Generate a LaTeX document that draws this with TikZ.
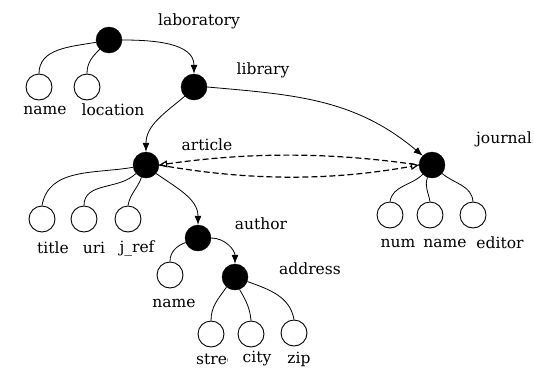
\documentclass[tikz,border=0pt]{standalone}
\usepackage{fontspec}
\setmainfont{DejaVu Serif}
\usetikzlibrary{arrows.meta}
\begin{document}
\begin{tikzpicture}[x=1pt,y=-1pt,
  bn/.style={circle,fill=black,draw=black,minimum size=26pt,inner sep=0pt},
  wn/.style={circle,draw=black,fill=white,minimum size=26pt,inner sep=0pt,line width=0.9pt},
  lbl/.style={font=\fontsize{15.5}{18}\selectfont,inner sep=0pt},
  edge/.style={line width=0.8pt},
  arr/.style={line width=0.8pt,-{Latex[length=9pt,width=7pt]}},
  dsh/.style={line width=1.2pt,dash pattern=on 6pt off 3pt}]
\useasboundingbox (0,0) rectangle (534,367);
% black nodes
\node[bn] (lab) at (109,40) {};
\node[bn] (lib) at (194,87) {};
\node[bn] (art) at (146,165) {};
\node[bn] (jou) at (432,165) {};
\node[bn] (aut) at (198,238) {};
\node[bn] (adr) at (235,277) {};
% white nodes
\node[wn] (lname) at (39,87) {};
\node[wn] (lloc) at (87,87) {};
\node[wn] (title) at (42,219) {};
\node[wn] (uri) at (84,219) {};
\node[wn] (jref) at (128,219) {};
\node[wn] (aname) at (170,275) {};
\node[wn] (stre) at (211,334) {};
\node[wn] (city) at (251,334) {};
\node[wn] (zip) at (294,333) {};
\node[wn] (num) at (390,215) {};
\node[wn] (jname) at (430,215) {};
\node[wn] (edit) at (473,215) {};
% labels
\node[lbl] (tlab) at (199,21) {laboratory};
\node[lbl] (tlib) at (263,70) {library};
\node[lbl] (tart) at (207,145) {article};
\node[lbl] (tjou) at (504,139) {journal};
\node[lbl] (taut) at (261,224) {author};
\node[lbl] (tadr) at (310,269) {address};
\node[lbl] (tlname) at (45,110) {name};
\node[lbl] (tlloc) at (113,110) {location};
\node[lbl] (ttitle) at (53,248) {title};
\node[lbl] (turi) at (94,248) {uri};
\node[lbl] (tjref) at (137,248) {j\_ref};
\node[lbl] (taname) at (174,303) {name};
\begin{scope}
\clip (190,345) rectangle (227,367);
\node[lbl,anchor=west] (tstre) at (196,359) {street};
\end{scope}
\node[lbl] (tcity) at (257,359) {city};
\node[lbl] (tzip) at (299,359) {zip};
\node[lbl] (tnum) at (398,243) {num};
\node[lbl] (tjname) at (445,243) {name};
\node[lbl] (tedit) at (500,243) {editor};
% edges laboratory
\draw[edge] (lab.190) to[out=190,in=90] (lname.north);
\draw[edge] (lab.225) to[out=225,in=90] (lloc.north);
\draw[arr] (lab.east) to[out=0,in=90] (lib.north);
% library
\draw[arr] (lib.225) to[out=220,in=90] (art.north);
\draw[arr] (lib.east) to[out=-5,in=140] (jou.north west);
% article
\draw[edge] (art.190) to[out=190,in=80] (title.north);
\draw[edge] (art.220) to[out=225,in=90] (uri.north);
\draw[edge] (art.250) to[out=250,in=80] (jref.north);
\draw[arr] (art.-40) to[out=-35,in=90] (aut.north);
% dashed
\draw[dsh,{Triangle[open,length=8pt,width=7pt]}-] (art.east) .. controls (250,152) and (330,152) .. (jou.west);
\draw[dsh,-{Triangle[open,length=8pt,width=7pt]}] (art.east) .. controls (250,181) and (330,181) .. (jou.west);
% journal
\draw[edge] (jou.225) to[out=225,in=80] (num.north);
\draw[edge] (jou.250) to[out=250,in=100] (jname.north);
\draw[edge] (jou.-40) to[out=-40,in=95] (edit.north);
% author
\draw[edge] (aut.200) to[out=200,in=90] (aname.north);
\draw[arr] (aut.east) to[out=0,in=90] (adr.north);
% address
\draw[edge] (adr.230) to[out=235,in=90] (stre.north);
\draw[edge] (adr.-70) to[out=-60,in=95] (city.north);
\draw[edge] (adr.-20) to[out=-20,in=100] (zip.north);
\end{tikzpicture}
\end{document}
